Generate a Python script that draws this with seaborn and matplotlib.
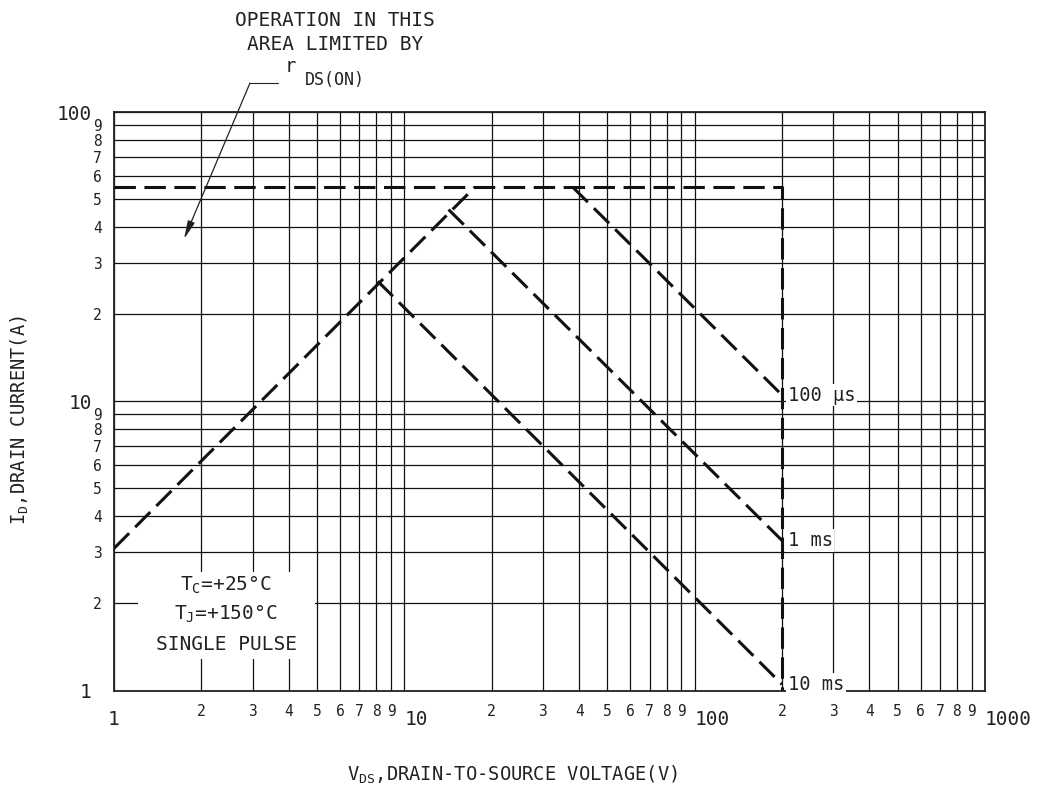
import matplotlib
matplotlib.use("Agg")
import matplotlib.pyplot as plt
from matplotlib.lines import Line2D
from matplotlib.patches import Rectangle
import seaborn as sns

# safe operating area curves (V_DS in volts, I_D in amps)
rds_v = [1, 17.5]
rds_i = [3.1, 55]
limit_v = [1, 200, 200]
limit_i = [55, 55, 1]
us100_v = [38, 200]
us100_i = [55, 10.5]
ms1_v = [14.2, 200]
ms1_i = [46, 3.3]
ms10_v = [8.1, 200]
ms10_i = [26, 1.05]

pulse_labels = ["100 µs", "1 ms", "10 ms"]

x_major = [1, 10, 100, 1000]
y_major = [1, 10, 100]
minor_digits = [2, 3, 4, 5, 6, 7, 8, 9]

W, H = 1037, 802

sns.set_style("white")
plt.rcParams['font.family'] = ['DejaVu Sans Mono', 'DejaVu Sans']
plt.rcParams['text.color'] = '#222222'

fig = plt.figure(figsize=(W / 100, H / 100), dpi=100)
ax = fig.add_axes([114 / W, 1 - 690.5 / H, (985 - 114) / W, (690.5 - 112) / H])
ax.set_xscale('log')
ax.set_yscale('log')

dash = (0, (7, 2.8))
for v, i in [(rds_v, rds_i), (limit_v, limit_i), (us100_v, us100_i),
             (ms1_v, ms1_i), (ms10_v, ms10_i)]:
    sns.lineplot(x=v, y=i, ax=ax, color='#111111', lw=2.2, linestyle=dash,
                 sort=False, estimator=None)

for lbl, v, i in zip(pulse_labels, [us100_v, ms1_v, ms10_v], [us100_i, ms1_i, ms10_i]):
    ax.annotate(lbl, xy=(v[-1], i[-1]), xytext=(4, 0), textcoords='offset points',
                ha='left', va='center', fontsize=13.5,
                bbox=dict(boxstyle='square,pad=0.1', fc='white', ec='none'))

ax.set_xlim(1, 1000)
ax.set_ylim(1, 100)

x_minor = [k * 10 ** d for d in range(3) for k in minor_digits]
y_minor = [k * 10 ** d for d in range(2) for k in minor_digits]
ax.set_xticks(x_major)
ax.set_xticklabels([str(t) for t in x_major])
ax.set_xticks(x_minor, minor=True)
ax.set_xticklabels([str(k) for d in range(3) for k in minor_digits], minor=True)
ax.set_yticks(y_major)
ax.set_yticklabels([str(t) for t in y_major])
ax.set_yticks(y_minor, minor=True)
ax.set_yticklabels([str(k) for d in range(2) for k in minor_digits], minor=True)

ax.tick_params(which='both', length=0, colors='#222222')
ax.tick_params(axis='x', which='major', labelsize=14, pad=14)
ax.tick_params(axis='x', which='minor', labelsize=10.5, pad=10)
ax.tick_params(axis='y', which='major', labelsize=14, pad=16)
ax.tick_params(axis='y', which='minor', labelsize=10.5, pad=9)
for lbl in ax.get_xticklabels()[1:]:
    lbl.set_horizontalalignment('left')

ax.grid(which='both', color='#111111', lw=0.9)
for s in ax.spines.values():
    s.set_color('#222222')
    s.set_linewidth(1.3)

# white box behind the test conditions
ax.add_patch(Rectangle((138 / W, 1 - 659 / H), 177 / W, 87 / H, transform=fig.transFigure,
                       facecolor='white', edgecolor='none', zorder=1))
fig.text(226 / W, 1 - 585 / H, r'$\mathregular{T_C}$=+25°C', ha='center', va='center', fontsize=14)
fig.text(226 / W, 1 - 614 / H, r'$\mathregular{T_J}$=+150°C', ha='center', va='center', fontsize=14)
fig.text(226 / W, 1 - 645 / H, 'SINGLE PULSE', ha='center', va='center', fontsize=14)

# note at the top with pointer
fig.text(335 / W, 1 - 21 / H, 'OPERATION IN THIS', ha='center', va='center', fontsize=14)
fig.text(335 / W, 1 - 44 / H, 'AREA LIMITED BY', ha='center', va='center', fontsize=14)
fig.text(290 / W, 1 - 67 / H, 'r', ha='center', va='center', fontsize=13.5)
fig.text(335 / W, 1 - 80 / H, 'DS(ON)', ha='center', va='center', fontsize=12)
fig.add_artist(Line2D([250 / W, 278 / W], [1 - 83 / H, 1 - 83 / H], color='#222222', lw=0.8))
ax.annotate('', xy=(184, H - 239), xycoords='figure pixels', xytext=(250, H - 83),
            textcoords='figure pixels', annotation_clip=False,
            arrowprops=dict(arrowstyle='-|>,head_length=1.1,head_width=0.22', color='#222222',
                            lw=0.9, shrinkA=0, shrinkB=0))

fig.text(512 / W, 1 - 775 / H, r'$\mathregular{V_{DS}}$,DRAIN-TO-SOURCE VOLTAGE(V)',
         ha='center', va='center', fontsize=13.5)
fig.text(20 / W, 1 - 420 / H, r'$\mathregular{I_D}$,DRAIN CURRENT(A)',
         ha='center', va='center', rotation=90, fontsize=13.5)

fig.savefig('out.png', dpi=100, facecolor='white')
plt.close(fig)
